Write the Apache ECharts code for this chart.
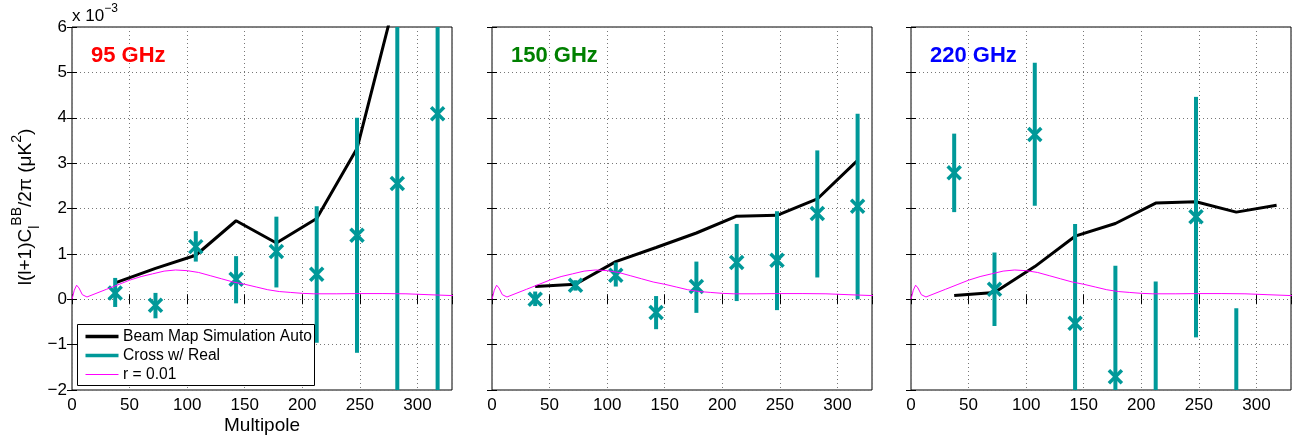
<!DOCTYPE html>
<html><head><meta charset="utf-8">
<script src="https://cdn.jsdelivr.net/npm/echarts@6/dist/echarts.min.js"></script>
<style>html,body{margin:0;padding:0;background:#fff}#c{width:1297px;height:436px}</style>
</head><body><div id="c"></div>
<script>
// Multipole bin centres
const ell = [37.5, 72.5, 107.5, 142.5, 177.5, 212.5, 247.5, 282.5, 317.5];
// 95 GHz (units of 1e-3 uK^2)
const auto95 = [0.36, 0.68, 0.97, 1.73, 1.24, 1.78, 3.32, 6.8, 10.5];
const cross95 = [0.14, -0.13, 1.16, 0.44, 1.05, 0.55, 1.41, 2.55, 4.09];
const cross95Lo = [-0.17, -0.42, 0.83, -0.09, 0.26, -0.96, -1.18, -6.0, -8.0];
const cross95Hi = [0.47, 0.14, 1.50, 0.95, 1.82, 2.05, 4.00, 11.0, 16.0];
// 150 GHz
const auto150 = [0.28, 0.33, 0.83, 1.14, 1.46, 1.83, 1.85, 2.21, 3.06];
const cross150 = [0.00, 0.31, 0.53, -0.29, 0.28, 0.81, 0.86, 1.89, 2.05];
const cross150Lo = [-0.15, 0.19, 0.28, -0.66, -0.30, -0.04, -0.24, 0.48, 0.00];
const cross150Hi = [0.17, 0.42, 0.81, 0.07, 0.83, 1.66, 1.94, 3.28, 4.09];
// 220 GHz
const auto220 = [0.08, 0.15, 0.72, 1.39, 1.67, 2.12, 2.15, 1.92, 2.07];
const cross220 = [2.79, 0.22, 3.63, -0.53, -1.71, -3.0, 1.82, -3.5, -6.0];
const cross220Lo = [1.92, -0.59, 2.06, -3.5, -5.0, -6.5, -0.84, -7.0, -10.0];
const cross220Hi = [3.65, 1.03, 5.21, 1.66, 0.74, 0.39, 4.46, -0.20, -2.5];
// r = 0.01 theory curve
const theoryEll = [0, 2, 4, 6, 9, 13, 20, 30, 40, 50, 60, 70, 80, 90, 100, 110, 120, 130, 140, 150, 160, 170, 180, 190, 200, 210, 230, 250, 270, 290, 310, 331];
const theoryVal = [0, 0.20, 0.31, 0.25, 0.10, 0.05, 0.12, 0.22, 0.32, 0.42, 0.50, 0.56, 0.62, 0.645, 0.63, 0.59, 0.52, 0.45, 0.38, 0.33, 0.27, 0.21, 0.17, 0.15, 0.13, 0.12, 0.12, 0.125, 0.125, 0.12, 0.10, 0.08];
// tick labels
const xTicks = [0, 50, 100, 150, 200, 250, 300];
const yTicks = [-2, -1, 0, 1, 2, 3, 4, 5, 6];
const panelNames = ['95 GHz', '150 GHz', '220 GHz'];

const FONT = 'Liberation Sans, Arial, Helvetica, sans-serif';
const TEAL = '#009999';
const panels = [
  {auto: auto95, c: cross95, lo: cross95Lo, hi: cross95Hi, color: '#ff0000'},
  {auto: auto150, c: cross150, lo: cross150Lo, hi: cross150Hi, color: '#008000'},
  {auto: auto220, c: cross220, lo: cross220Lo, hi: cross220Hi, color: '#0000ff'}
];
const lefts = [72, 492, 911];
const W = 380, TOP = 27, H = 363;

const grid = [], xAxis = [], yAxis = [], series = [], graphic = [];
const splitStyle = {show: true, lineStyle: {color: '#777', width: 1, type: [1, 3]}};

panels.forEach((p, i) => {
  grid.push({left: lefts[i], top: TOP, width: W, height: H, show: true, borderColor: '#000', borderWidth: 1, backgroundColor: 'transparent', containLabel: false, outerBoundsMode: 'none'});
  xAxis.push({type: 'value', gridIndex: i, min: 0, max: 330, interval: 50, position: 'bottom',
    axisLine: {show: false}, axisTick: {show: true, inside: true, length: 5, lineStyle: {color: '#000'}},
    splitLine: splitStyle,
    axisLabel: {show: true, margin: 7, color: '#000', fontSize: 17, fontFamily: FONT,
      formatter: v => xTicks.indexOf(v) >= 0 ? String(v) : ''}});
  yAxis.push({type: 'value', gridIndex: i, min: -2, max: 6, interval: 1, position: 'left',
    axisLine: {show: false}, axisTick: {show: true, inside: true, length: 5, lineStyle: {color: '#000'}},
    splitLine: splitStyle,
    axisLabel: {show: i === 0, margin: 5, color: '#000', fontSize: 17, fontFamily: FONT,
      formatter: v => yTicks.indexOf(v) >= 0 ? (v < 0 ? '\u2212' + (-v) : String(v)) : ''}});
});
panels.forEach((p, i) => {
  xAxis.push({type: 'value', gridIndex: i, min: 0, max: 330, interval: 50, position: 'top',
    axisLine: {show: false}, axisTick: {show: true, inside: true, length: 5, lineStyle: {color: '#000'}},
    splitLine: {show: false}, axisLabel: {show: false}});
  yAxis.push({type: 'value', gridIndex: i, min: -2, max: 6, interval: 1, position: 'right',
    axisLine: {show: false}, axisTick: {show: true, inside: true, length: 5, lineStyle: {color: '#000'}},
    splitLine: {show: false}, axisLabel: {show: false}});
});

function renderErr(params, api) {
  const x = api.value(0), y = api.value(1), lo = api.value(2), hi = api.value(3);
  const a = api.coord([x, lo]), b = api.coord([x, hi]), c = api.coord([x, y]);
  const s = 6.5;
  return {type: 'group', children: [
    {type: 'line', shape: {x1: a[0], y1: a[1], x2: b[0], y2: b[1]}, style: {stroke: TEAL, lineWidth: 4}},
    {type: 'line', shape: {x1: c[0] - s, y1: c[1] - s, x2: c[0] + s, y2: c[1] + s}, style: {stroke: TEAL, lineWidth: 3.5}},
    {type: 'line', shape: {x1: c[0] - s, y1: c[1] + s, x2: c[0] + s, y2: c[1] - s}, style: {stroke: TEAL, lineWidth: 3.5}}
  ]};
}

panels.forEach((p, i) => {
  series.push({type: 'line', name: 'Beam Map Simulation Auto', xAxisIndex: i, yAxisIndex: i,
    data: ell.map((x, k) => [x, p.auto[k]]), showSymbol: false, symbol: 'none', clip: true,
    lineStyle: {color: '#000', width: 3}, z: 2});
  series.push({type: 'custom', name: 'Cross w/ Real', xAxisIndex: i, yAxisIndex: i, clip: true,
    data: ell.map((x, k) => [x, p.c[k], p.lo[k], p.hi[k]]),
    encode: {x: 0, y: 1}, renderItem: renderErr, z: 3});
  series.push({type: 'line', name: 'r = 0.01', xAxisIndex: i, yAxisIndex: i,
    data: theoryEll.map((x, k) => [x, theoryVal[k]]), showSymbol: false, symbol: 'none', clip: true,
    lineStyle: {color: '#ff00ff', width: 1}, z: 4});
  graphic.push({type: 'text', left: lefts[i] + 19, top: 45, z: 10,
    style: {text: panelNames[i], fill: p.color, font: 'bold 22px ' + FONT}});
});

// exponent
graphic.push({type: 'text', x: 72, y: 3, z: 10, style: {
  text: '{a|x 10}{s|\u22123}', rich: {
    a: {fontSize: 17, fontFamily: FONT, fill: '#000', lineHeight: 26, verticalAlign: 'middle'},
    s: {fontSize: 12, fontFamily: FONT, fill: '#000', lineHeight: 8, verticalAlign: 'top'}}}});
// y title
graphic.push({type: 'text', x: 26, y: 207, rotation: Math.PI / 2, z: 10, style: {
  text: '{m|l(l+1)C}{sub|l}{sup|BB}{m|/2\u03c0 (\u03bcK}{sup|2}{m|)}',
  align: 'center', verticalAlign: 'middle',
  rich: {
    m: {fontSize: 19, fontFamily: FONT, fill: '#000', lineHeight: 32, verticalAlign: 'middle'},
    sup: {fontSize: 14, fontFamily: FONT, fill: '#000', lineHeight: 14, verticalAlign: 'top'},
    sub: {fontSize: 14, fontFamily: FONT, fill: '#000', lineHeight: 14, verticalAlign: 'bottom'}}}});
// x title
graphic.push({type: 'text', x: 262, y: 416, z: 10, style: {
  text: 'Multipole', fontSize: 19, fontFamily: FONT, fill: '#000', align: 'center', verticalAlign: 'top'}});
// legend
const legItems = [
  {name: 'Beam Map Simulation Auto', color: '#000', w: 3.5},
  {name: 'Cross w/ Real', color: TEAL, w: 3.5},
  {name: 'r = 0.01', color: '#ff00ff', w: 1}
];
const legChildren = [{type: 'rect', z: 100, shape: {x: 0, y: 0, width: 237, height: 61},
  style: {fill: '#fff', stroke: '#000', lineWidth: 1}}];
legItems.forEach((it, k) => {
  const yy = 12 + k * 19;
  legChildren.push({type: 'line', z: 101, shape: {x1: 8, y1: yy, x2: 41, y2: yy}, style: {stroke: it.color, lineWidth: it.w}});
  legChildren.push({type: 'text', z: 101, x: 45.5, y: yy, style: {text: it.name, fontSize: 15.6, fontFamily: FONT, fill: '#000', verticalAlign: 'middle'}});
});
graphic.push({type: 'group', x: 77.5, y: 324.5, z: 100, children: legChildren});

const chart = echarts.init(document.getElementById('c'), null, {renderer: 'canvas'});
chart.setOption({animation: false, backgroundColor: '#fff', grid, xAxis, yAxis, series, graphic});
</script></body></html>
